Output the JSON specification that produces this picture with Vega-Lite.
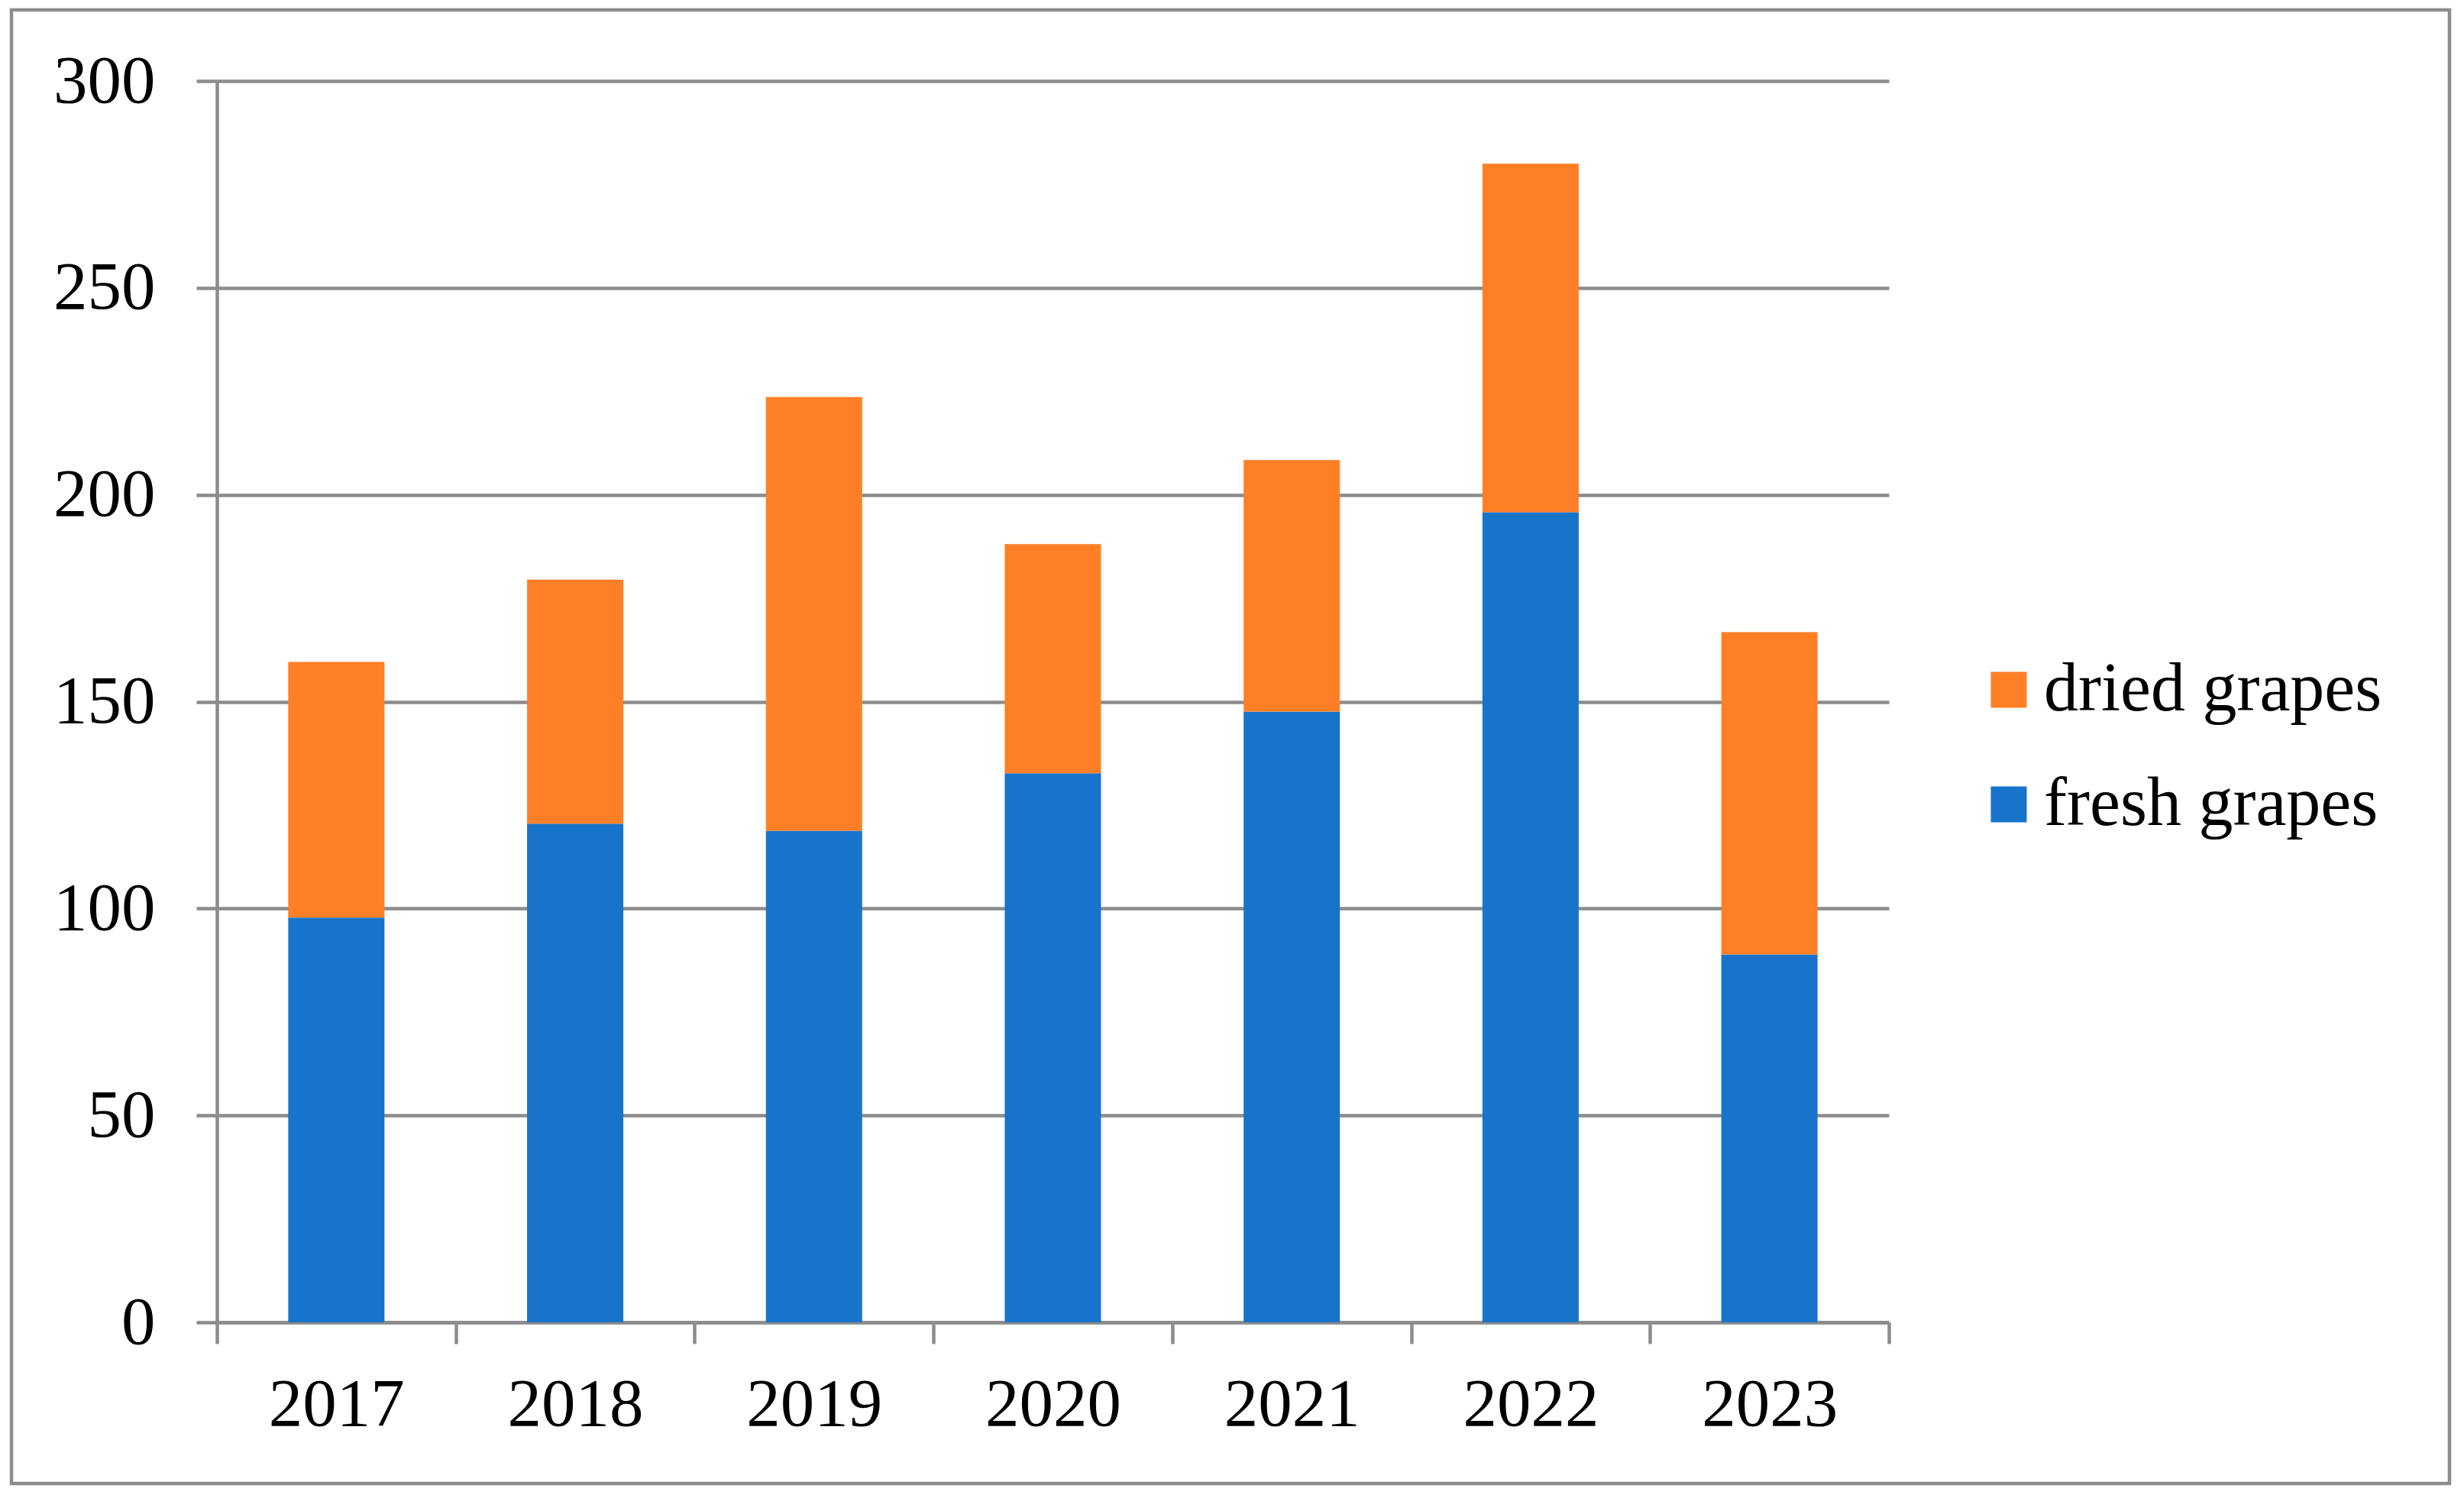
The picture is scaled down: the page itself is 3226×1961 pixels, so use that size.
{
  "$schema": "https://vega.github.io/schema/vega-lite/v6.json",
  "autosize": {"type": "none"},
  "padding": {"left": 15, "top": 13, "right": 19, "bottom": 19},
  "width": 3192,
  "height": 1929,
  "background": "white",
  "config": {"view": {"stroke": "#8c8c8c", "strokeWidth": 4.5}},
  "data": {
    "values": [
      {"year": "2017", "series": "fresh grapes", "value": 97.8},
      {"year": "2017", "series": "dried grapes", "value": 61.8},
      {"year": "2018", "series": "fresh grapes", "value": 120.5},
      {"year": "2018", "series": "dried grapes", "value": 59.0},
      {"year": "2019", "series": "fresh grapes", "value": 118.8},
      {"year": "2019", "series": "dried grapes", "value": 104.8},
      {"year": "2020", "series": "fresh grapes", "value": 132.7},
      {"year": "2020", "series": "dried grapes", "value": 55.4},
      {"year": "2021", "series": "fresh grapes", "value": 147.6},
      {"year": "2021", "series": "dried grapes", "value": 60.8},
      {"year": "2022", "series": "fresh grapes", "value": 195.8},
      {"year": "2022", "series": "dried grapes", "value": 84.2},
      {"year": "2023", "series": "fresh grapes", "value": 88.9},
      {"year": "2023", "series": "dried grapes", "value": 77.9}
    ]
  },
  "mark": {"type": "bar", "width": {"band": 0.403}},
  "encoding": {
    "x": {
      "field": "year",
      "type": "ordinal",
      "scale": {"range": [269, 2458], "paddingInner": 0, "paddingOuter": 0},
      "axis": {
        "title": null,
        "orient": "bottom",
        "offset": -211,
        "grid": false,
        "domainColor": "#8c8c8c",
        "domainWidth": 4.5,
        "tickColor": "#8c8c8c",
        "tickWidth": 4.5,
        "tickSize": 28,
        "tickBand": "extent",
        "labelFont": "Liberation Serif",
        "labelFontSize": 89,
        "labelColor": "black",
        "labelPadding": 36,
        "labelAngle": 0
      }
    },
    "y": {
      "field": "value",
      "type": "quantitative",
      "stack": "zero",
      "scale": {"domain": [0, 300], "range": [1718, 93], "nice": false, "zero": true},
      "axis": {
        "title": null,
        "offset": -269,
        "values": [0, 50, 100, 150, 200, 250, 300],
        "grid": true,
        "gridColor": "#8c8c8c",
        "gridWidth": 4.5,
        "domainColor": "#8c8c8c",
        "domainWidth": 4.5,
        "tickColor": "#8c8c8c",
        "tickWidth": 4.5,
        "tickSize": 27,
        "labelFont": "Liberation Serif",
        "labelFontSize": 89,
        "labelColor": "black",
        "labelPadding": 54,
        "labelFlush": false,
        "labelOverlap": false
      }
    },
    "color": {
      "field": "series",
      "type": "nominal",
      "scale": {"domain": ["dried grapes", "fresh grapes"], "range": ["#FF7F27", "#1874CA"]},
      "legend": {
        "title": null,
        "orient": "none",
        "direction": "vertical",
        "legendX": 2570,
        "legendY": 845,
        "padding": 0,
        "symbolType": "square",
        "symbolSize": 2209,
        "symbolStrokeWidth": 0,
        "labelFont": "Liberation Serif",
        "labelFontSize": 90,
        "labelColor": "black",
        "labelOffset": 1,
        "rowPadding": 60,
        "labelLimit": 1000
      }
    },
    "order": {"field": "series", "sort": "descending"}
  }
}
